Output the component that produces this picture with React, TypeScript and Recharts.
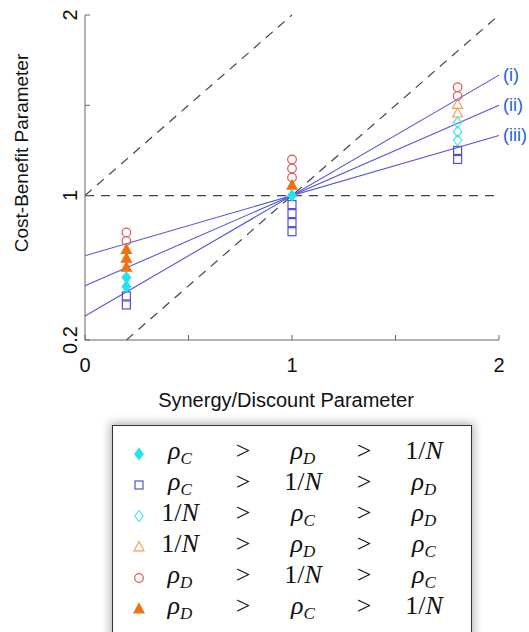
import React from 'react';
import { ScatterChart, Scatter, XAxis, YAxis, ReferenceLine, ReferenceDot, Label } from 'recharts';

// marker values, grouped by ordering case
const cyanFilled = [
  { x: 0.2, y: 0.546 },
  { x: 0.2, y: 0.496 },
  { x: 1, y: 1.0 },
];
const blueSquares = [
  { x: 0.2, y: 0.444 },
  { x: 0.2, y: 0.394 },
  { x: 1, y: 0.95 },
  { x: 1, y: 0.9 },
  { x: 1, y: 0.85 },
  { x: 1, y: 0.8 },
  { x: 1.8, y: 1.25 },
  { x: 1.8, y: 1.2 },
];
const cyanOpen = [
  { x: 1.8, y: 1.404 },
  { x: 1.8, y: 1.354 },
  { x: 1.8, y: 1.306 },
];
const orangeOpen = [
  { x: 1.8, y: 1.504 },
  { x: 1.8, y: 1.456 },
];
const redCircles = [
  { x: 0.2, y: 0.796 },
  { x: 0.2, y: 0.748 },
  { x: 1, y: 1.2 },
  { x: 1, y: 1.15 },
  { x: 1, y: 1.1 },
  { x: 1.8, y: 1.6 },
  { x: 1.8, y: 1.552 },
];
const orangeFilled = [
  { x: 0.2, y: 0.7 },
  { x: 0.2, y: 0.652 },
  { x: 0.2, y: 0.602 },
  { x: 1, y: 1.056 },
];

// threshold lines through (1, 1)
const regimeLines = [
  { label: '(i)', y0: 0.333, y2: 1.667 },
  { label: '(ii)', y0: 0.5, y2: 1.5 },
  { label: '(iii)', y0: 0.667, y2: 1.333 },
];

const xTicks = [0, 0.5, 1, 1.5, 2];
const yTicks = [0.2, 1, 1.5, 2];
const yTickLabels: Record<number, string> = { 0.2: '0.2', 1: '1', 2: '2' };

const legendRows = [
  { kind: 'diamond', color: '#1fe3f2', filled: true, terms: ['C', 'D', 'N'] },
  { kind: 'square', color: '#5050d8', filled: false, terms: ['C', 'N', 'D'] },
  { kind: 'diamond', color: '#4fe2f2', filled: false, terms: ['N', 'C', 'D'] },
  { kind: 'triangle', color: '#f0a060', filled: false, terms: ['N', 'D', 'C'] },
  { kind: 'circle', color: '#e05555', filled: false, terms: ['D', 'N', 'C'] },
  { kind: 'triangle', color: '#f07010', filled: true, terms: ['D', 'C', 'N'] },
];

const LINE_BLUE = '#5555d6';
const DASH = '#444';

function Marker({ kind, color, filled, cx, cy }: any) {
  const fill = filled ? color : 'none';
  const sw = 1.2;
  if (kind === 'circle') return <circle cx={cx} cy={cy} r={4.3} fill={fill} stroke={color} strokeWidth={sw} />;
  if (kind === 'square') return <rect x={cx - 4} y={cy - 4} width={8} height={8} fill={fill} stroke={color} strokeWidth={sw} />;
  if (kind === 'diamond')
    return <polygon points={`${cx},${cy - 5.5} ${cx + 4.2},${cy} ${cx},${cy + 5.5} ${cx - 4.2},${cy}`} fill={fill} stroke={color} strokeWidth={sw} />;
  return <polygon points={`${cx},${cy - 5.5} ${cx + 5},${cy + 3.8} ${cx - 5},${cy + 3.8}`} fill={fill} stroke={color} strokeWidth={sw} />;
}

const shape = (kind: string, color: string, filled: boolean) => (p: any) => (
  <Marker kind={kind} color={color} filled={filled} cx={p.cx} cy={p.cy} />
);

function YTick({ x, y, payload }: any) {
  const text = yTickLabels[payload.value] ?? '';
  return (
    <text x={x} y={y} transform={`rotate(-90, ${x}, ${y})`} textAnchor="middle" fontSize={20} fill="#111">
      {text}
    </text>
  );
}

function XTitle({ viewBox }: any) {
  return (
    <text x={viewBox.x + viewBox.width / 2 - 6} y={viewBox.y + 67} textAnchor="middle" fontSize={20} fill="#111">
      Synergy/Discount Parameter
    </text>
  );
}

function YTitle({ viewBox }: any) {
  const bx = viewBox.x + 3;
  const cy = viewBox.y + 138;
  return (
    <text x={bx} y={cy} transform={`rotate(-90, ${bx}, ${cy})`} textAnchor="middle" fontSize={19} fill="#111">
      Cost-Benefit Parameter
    </text>
  );
}

const regimeLabel = (text: string) => ({ viewBox }: any) => (
  <text x={viewBox.x + 4} y={viewBox.y + 6} fontSize={18} fill="#1f5fd8">
    {text}
  </text>
);

function Term({ t }: { t: string }) {
  if (t === 'N')
    return (
      <span>
        1/<i>N</i>
      </span>
    );
  return (
    <span>
      <i>ρ</i>
      <sub style={{ fontSize: 17, fontStyle: 'italic', verticalAlign: '-5px' }}>{t}</sub>
    </span>
  );
}

function LegendBox() {
  const cols = [67, 130, 190, 251, 311];
  return (
    <div
      style={{
        position: 'absolute',
        left: 112,
        top: 425,
        width: 358,
        height: 240,
        border: '1.5px solid #333',
        boxShadow: '0 0 9px 2px rgba(0,0,0,0.3)',
        background: '#fff',
        fontFamily: '"Liberation Serif", serif',
        fontSize: 26,
        color: '#111',
      }}
    >
      {legendRows.map((row, i) => {
        const top = 28 + i * 31;
        const cells = [row.terms[0], '>', row.terms[1], '>', row.terms[2]];
        return (
          <div key={i}>
            <svg style={{ position: 'absolute', left: 18, top: top - 8 }} width={16} height={16}>
              <Marker kind={row.kind} color={row.color} filled={row.filled} cx={8} cy={8} />
            </svg>
            {cells.map((c, j) => (
              <div
                key={j}
                style={{
                  position: 'absolute',
                  left: cols[j],
                  top: top - 17,
                  transform: 'translateX(-50%)',
                  lineHeight: '28px',
                  whiteSpace: 'nowrap',
                }}
              >
                {c === '>' ? '>' : <Term t={c} />}
              </div>
            ))}
          </div>
        );
      })}
    </div>
  );
}

export default function App() {
  return (
    <div
      style={{
        position: 'absolute',
        left: 0,
        top: 0,
        width: 529,
        height: 632,
        overflow: 'hidden',
        background: '#fff',
        fontFamily: '"Liberation Sans", Arial, sans-serif',
      }}
    >
      <ScatterChart width={529} height={420} margin={{ top: 15, right: 30, left: 25, bottom: 10 }}>
        <XAxis
          type="number"
          dataKey="x"
          domain={[0, 2]}
          ticks={xTicks}
          tickFormatter={(v: number) => (v % 1 === 0 ? String(v) : '')}
          height={70}
          stroke="#666"
          tick={{ fontSize: 20, fill: '#111' }}
          tickSize={-5}
          tickMargin={23}
          allowDataOverflow
        >
          <Label content={<XTitle />} />
        </XAxis>
        <YAxis
          type="number"
          dataKey="y"
          domain={[0.2, 2]}
          ticks={yTicks}
          width={60}
          stroke="#666"
          tick={<YTick />}
          tickSize={-5}
          tickMargin={13}
          allowDataOverflow
        >
          <Label content={<YTitle />} />
        </YAxis>

        <ReferenceLine y={1} stroke={DASH} strokeDasharray="9 7" strokeWidth={1.2} />
        <ReferenceLine segment={[{ x: 0, y: 1 }, { x: 1, y: 2 }]} stroke={DASH} strokeDasharray="9 7" strokeWidth={1.2} />
        <ReferenceLine segment={[{ x: 0.2, y: 0.2 }, { x: 1.98, y: 1.98 }]} stroke={DASH} strokeDasharray="9 7" strokeWidth={1.2} />
        {regimeLines.map((l) => (
          <ReferenceLine key={l.label} segment={[{ x: 0, y: l.y0 }, { x: 2, y: l.y2 }]} stroke={LINE_BLUE} strokeWidth={1.1} />
        ))}
        {regimeLines.map((l) => (
          <ReferenceDot key={'d' + l.label} x={2} y={l.y2} r={0} stroke="none" fill="none" ifOverflow="visible">
            <Label content={regimeLabel(l.label)} />
          </ReferenceDot>
        ))}

        <Scatter data={blueSquares} shape={shape('square', '#5050d8', false)} isAnimationActive={false} />
        <Scatter data={cyanOpen} shape={shape('diamond', '#4fe2f2', false)} isAnimationActive={false} />
        <Scatter data={orangeOpen} shape={shape('triangle', '#f0a060', false)} isAnimationActive={false} />
        <Scatter data={redCircles} shape={shape('circle', '#e05555', false)} isAnimationActive={false} />
        <Scatter data={orangeFilled} shape={shape('triangle', '#f07010', true)} isAnimationActive={false} />
        <Scatter data={cyanFilled} shape={shape('diamond', '#1fe3f2', true)} isAnimationActive={false} />
      </ScatterChart>
      <LegendBox />
    </div>
  );
}
